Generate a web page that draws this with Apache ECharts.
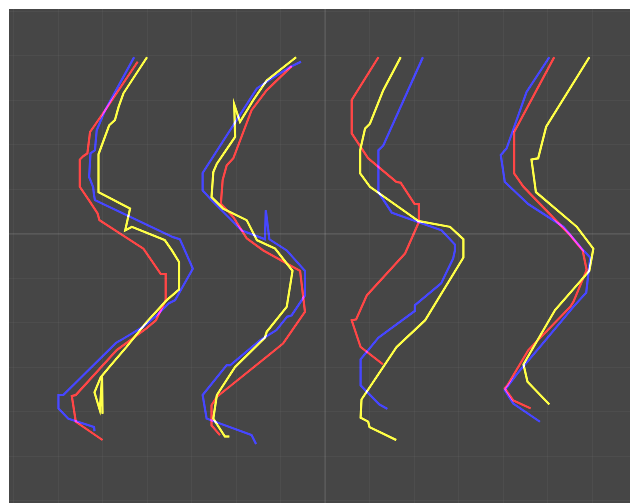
<!DOCTYPE html>
<html>
<head>
<meta charset="utf-8">
<script src="https://cdn.jsdelivr.net/npm/echarts@6/dist/echarts.min.js"></script>
<style>
  html, body { margin: 0; padding: 0; background: #ffffff; }
  #chart { position: absolute; left: 9px; top: 9px; width: 621px; height: 494px; background: #464646; }
</style>
</head>
<body>
<div id="chart"></div>
<script>
// Traces, in grid units (x right, y up), one array per line
const g1Red = [[-4.21,3.86],[-4.94,2.77],[-5.28,2.28],[-5.34,1.80],[-5.43,1.74],[-5.51,1.66],[-5.51,1.05],[-5.28,0.71],[-5.11,0.45],[-5.07,0.30],[-4.08,-0.34],[-3.69,-0.91],[-3.58,-0.91],[-3.58,-1.50],[-3.80,-1.95],[-4.01,-2.13],[-4.68,-2.62],[-5.60,-3.63],[-5.69,-3.65],[-5.60,-4.23],[-5.00,-4.64]];
const g1Blue = [[-4.29,3.96],[-4.94,2.77],[-5.13,2.32],[-5.17,1.87],[-5.27,1.80],[-5.30,1.27],[-5.21,1.04],[-5.19,0.86],[-5.17,0.75],[-3.42,-0.08],[-3.26,-0.13],[-3.15,-0.38],[-2.97,-0.79],[-3.37,-1.50],[-3.51,-1.57],[-3.78,-1.84],[-4.09,-2.10],[-4.61,-2.41],[-4.70,-2.46],[-5.88,-3.63],[-5.99,-3.63],[-5.99,-3.93],[-5.77,-4.16],[-5.19,-4.35],[-5.18,-4.44]];
const g1Yellow = [[-4.00,3.96],[-4.53,3.15],[-4.64,2.84],[-4.72,2.55],[-4.85,2.43],[-5.09,1.78],[-5.09,0.93],[-4.38,0.56],[-4.49,0.07],[-4.34,0.15],[-3.60,-0.15],[-3.44,-0.38],[-3.28,-0.64],[-3.28,-1.26],[-3.56,-1.50],[-4.01,-1.99],[-4.46,-2.55],[-4.83,-2.98],[-5.04,-3.23],[-5.18,-3.57],[-5.06,-3.97],[-5.01,-3.23],[-5.00,-4.05]];

const g2Red = [[-0.75,3.76],[-1.31,3.22],[-1.65,2.77],[-2.06,1.69],[-2.21,1.53],[-2.30,1.20],[-2.34,0.67],[-2.06,0.37],[-1.76,-0.11],[-1.39,-0.38],[-0.56,-0.84],[-0.45,-1.76],[-0.94,-2.47],[-1.31,-2.77],[-2.43,-3.67],[-2.55,-3.86],[-2.55,-4.31],[-2.36,-4.53]];
const g2Blue = [[-0.54,3.86],[-0.79,3.74],[-1.31,3.41],[-1.53,3.26],[-2.75,1.36],[-2.75,0.97],[-2.55,0.75],[-1.87,0.07],[-1.35,-0.13],[-1.33,0.52],[-1.25,-0.13],[-0.86,-0.38],[-0.45,-0.84],[-0.45,-1.39],[-0.75,-1.84],[-0.85,-1.87],[-1.09,-2.17],[-1.46,-2.40],[-2.13,-2.96],[-2.21,-2.96],[-2.75,-3.63],[-2.66,-4.16],[-1.65,-4.53],[-1.55,-4.73]];
const g2Yellow = [[-0.65,3.96],[-1.31,3.44],[-1.61,3.00],[-1.91,2.51],[-2.04,2.90],[-2.02,2.17],[-2.43,1.57],[-2.51,1.38],[-2.55,0.82],[-2.29,0.56],[-1.76,0.30],[-1.53,-0.15],[-1.12,-0.34],[-0.73,-0.84],[-0.86,-1.65],[-1.31,-2.21],[-1.35,-2.34],[-2.02,-3.00],[-2.43,-3.63],[-2.51,-4.16],[-2.25,-4.56],[-2.15,-4.56]];

const g3Red = [[1.20,3.96],[0.60,3.00],[0.60,2.25],[0.97,1.69],[1.60,1.16],[1.70,1.14],[2.01,0.67],[2.11,0.66],[2.11,0.26],[1.80,-0.45],[0.94,-1.39],[0.70,-1.93],[0.60,-1.95],[0.80,-2.55],[1.30,-2.94]];
const g3Blue = [[2.20,3.96],[1.31,1.98],[1.20,1.87],[1.20,0.93],[1.50,0.47],[2.62,0.07],[2.92,-0.25],[2.92,-0.38],[2.88,-0.56],[2.61,-1.12],[2.02,-1.61],[2.02,-1.74],[1.20,-2.34],[0.80,-2.83],[0.80,-3.41],[1.22,-3.84],[1.40,-3.94]];
const g3Yellow = [[1.70,3.96],[1.31,3.22],[1.01,2.47],[0.90,2.36],[0.79,1.87],[0.79,1.35],[1.01,1.05],[2.10,0.28],[2.81,0.15],[3.11,-0.13],[3.11,-0.54],[2.25,-1.95],[1.61,-2.55],[0.82,-3.73],[0.80,-4.14],[0.97,-4.23],[1.00,-4.35],[1.60,-4.64]];

const g4Red = [[5.15,3.96],[4.25,2.28],[4.25,1.35],[4.46,1.05],[5.51,-0.04],[5.79,-0.38],[5.88,-0.82],[5.58,-1.54],[5.51,-1.65],[4.57,-2.62],[4.10,-3.41],[4.04,-3.48],[4.23,-3.75],[4.62,-3.93]];
const g4Blue = [[5.04,3.96],[4.53,3.18],[4.08,1.91],[3.95,1.76],[4.04,1.16],[4.57,0.66],[5.36,0.15],[5.77,-0.34],[5.96,-0.54],[5.87,-1.33],[5.58,-1.65],[4.83,-2.55],[4.32,-3.15],[4.04,-3.52],[4.23,-3.82],[4.83,-4.23]];
const g4Yellow = [[5.94,3.96],[4.97,2.40],[4.79,1.69],[4.64,1.66],[4.74,0.93],[5.66,0.15],[6.03,-0.34],[5.94,-0.84],[5.17,-1.72],[4.46,-2.94],[4.55,-3.33],[5.04,-3.84]];

const traceColors = ['#ff0000', '#0000ff', '#ffff00'];
const groups = [
  [g1Red, g1Blue, g1Yellow],
  [g2Red, g2Blue, g2Yellow],
  [g3Red, g3Blue, g3Yellow],
  [g4Red, g4Blue, g4Yellow]
];

const chart = echarts.init(document.getElementById('chart'), null, { renderer: 'canvas' });

const series = [];
groups.forEach(function (g) {
  g.forEach(function (coords, i) {
    series.push({
      type: 'lines',
      coordinateSystem: 'cartesian2d',
      polyline: true,
      silent: true,
      blendMode: 'lighter',
      lineStyle: { color: traceColors[i], width: 2, opacity: 1 },
      data: [{ coords: coords }]
    });
  });
});

chart.setOption({
  animation: false,
  backgroundColor: '#464646',
  grid: { left: -40, top: -87, width: 712, height: 623, outerBoundsMode: 'none', containLabel: false },
  xAxis: {
    type: 'value', min: -8, max: 8, interval: 1,
    axisLabel: { show: false }, axisTick: { show: false },
    axisLine: { show: true, onZero: true, lineStyle: { color: 'rgba(255,255,255,0.07)', width: 2 } },
    splitLine: { show: true, lineStyle: { color: 'rgba(255,255,255,0.04)', width: 1 } }
  },
  yAxis: {
    type: 'value', min: -7, max: 7, interval: 1,
    axisLabel: { show: false }, axisTick: { show: false },
    axisLine: { show: true, onZero: true, lineStyle: { color: 'rgba(255,255,255,0.07)', width: 2 } },
    splitLine: { show: true, lineStyle: { color: 'rgba(255,255,255,0.04)', width: 1 } }
  },
  series: series
});
</script>
</body>
</html>
